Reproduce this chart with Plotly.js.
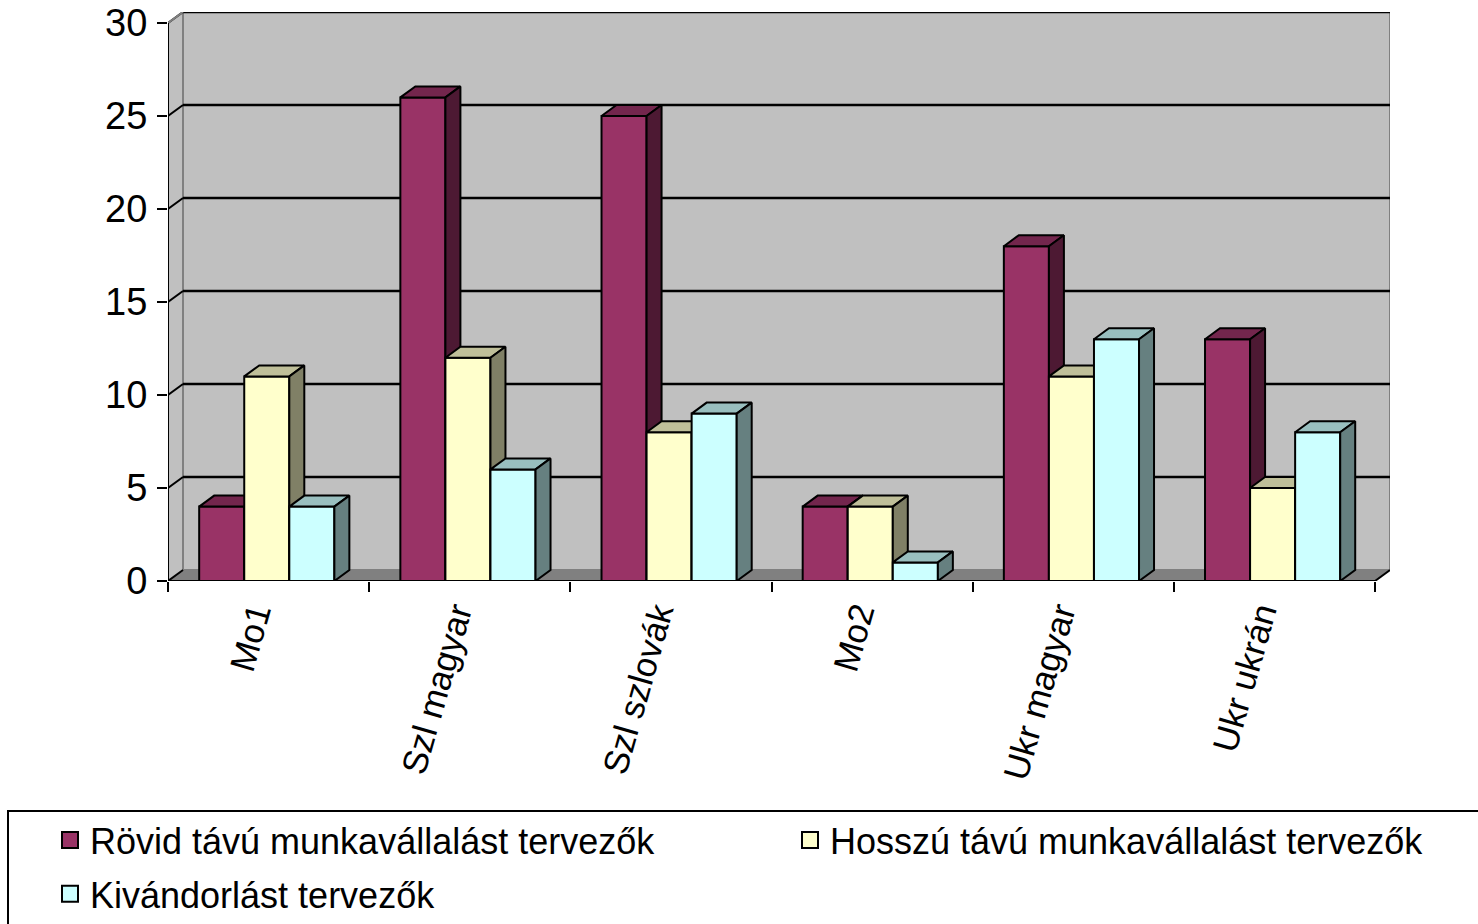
<!DOCTYPE html>
<html>
<head>
<meta charset="utf-8">
<script src="https://cdn.plot.ly/plotly-3.0.1.min.js"></script>
<style>html,body{margin:0;padding:0;background:#fff;}#chart{width:1478px;height:924px;}</style>
</head>
<body>
<div id="chart"></div>
<script>
// ---- data ----
const categories = ['Mo1', 'Szl magyar', 'Szl szlovák', 'Mo2', 'Ukr magyar', 'Ukr ukrán'];
const seriesNames = ['Rövid távú munkavállalást tervezők', 'Hosszú távú munkavállalást tervezők', 'Kivándorlást tervezők'];
const rovidTavu = [4, 26, 25, 4, 18, 13];
const hosszuTavu = [11, 12, 8, 4, 11, 5];
const kivandorlas = [4, 6, 9, 1, 13, 8];
const yTickVals = [0, 5, 10, 15, 20, 25, 30];

// ---- styles ----
const seriesValues = [rovidTavu, hosszuTavu, kivandorlas];
const frontColors = ['#993366', '#ffffcc', '#ccffff'];
const topColors = ['#73264d', '#bfbf99', '#99bfbf'];
const sideColors = ['#4d1933', '#808066', '#668080'];
const legendIds = ['legend', 'legend2', 'legend'];
const FONT = '"Liberation Sans", Arial, sans-serif';

// geometry (pixel layout mapped to axis units)
const W = 1478, H = 924;
const mL = 168, mR = 88, mT = 12, mB = 343;
const plotW = W - mL - mR, plotH = H - mT - mB;
const nCat = categories.length;
const PX_PER_CAT = 201.2;
const DX = 15 / PX_PER_CAT;   // depth offset in category units
const DY = 11 / 18.6;         // depth offset in value units
const yMax = 30;
const GROUP_OFF = 0.155, BAR_W = 0.224;
const LABEL_SHIFT = -14 / PX_PER_CAT;

const traces = [];
function poly(xs, ys, fill, group) {
  traces.push({
    type: 'scatter', mode: 'lines', x: xs.concat([xs[0]]), y: ys.concat([ys[0]]),
    fill: 'toself', fillcolor: fill, line: {color: '#000', width: 2},
    hoverinfo: 'skip', showlegend: false, legendgroup: group
  });
}
for (let c = 0; c < nCat; c++) {
  for (let s = 0; s < seriesValues.length; s++) {
    const v = seriesValues[s][c];
    const x0 = c + GROUP_OFF + s * BAR_W, x1 = x0 + BAR_W;
    poly([x0, x1, x1, x0], [0, 0, v, v], frontColors[s], 's' + s);                       // front
    poly([x0, x1, x1 + DX, x0 + DX], [v, v, v + DY, v + DY], topColors[s], 's' + s);     // top
    poly([x1, x1 + DX, x1 + DX, x1], [0, DY, v + DY, v], sideColors[s], 's' + s);        // side
  }
}
// legend entries
for (let s = 0; s < seriesNames.length; s++) {
  traces.push({
    type: 'scatter', mode: 'markers', x: [null], y: [null], name: seriesNames[s],
    legendgroup: 's' + s, showlegend: true, legend: legendIds[s],
    marker: {symbol: 'square', size: 18, color: frontColors[s], line: {color: '#000', width: 2}}
  });
}

const shapes = [];
shapes.push({type: 'path', layer: 'below', xref: 'x', yref: 'y',
  path: `M0,0 L${DX},${DY} L${DX},${yMax + DY} L0,${yMax} Z`,
  fillcolor: '#c0c0c0', line: {width: 0}});
shapes.push({type: 'rect', layer: 'below', xref: 'x', yref: 'y',
  x0: DX, x1: nCat + DX, y0: DY, y1: yMax + DY,
  fillcolor: '#c0c0c0', line: {color: '#808080', width: 2}});
shapes.push({type: 'path', layer: 'below', xref: 'x', yref: 'y',
  path: `M0,0 L${nCat},0 L${nCat + DX},${DY} L${DX},${DY} Z`,
  fillcolor: '#808080', line: {width: 0}});
yTickVals.forEach(v => {
  if (v > 0) {
    shapes.push({type: 'line', layer: 'below', xref: 'x', yref: 'y',
      x0: DX, x1: nCat + DX, y0: v + DY, y1: v + DY, line: {color: '#000', width: 2.5}});
  }
  shapes.push({type: 'line', layer: 'below', xref: 'x', yref: 'y',
    x0: 0, x1: DX, y0: v, y1: v + DY, line: {color: '#000', width: 2}});
});
shapes.push({type: 'line', layer: 'below', xref: 'x', yref: 'y',
  x0: 0, x1: DX, y0: yMax, y1: yMax + DY, line: {color: '#808080', width: 2}});
shapes.push({type: 'line', layer: 'above', xref: 'x', yref: 'y',
  x0: 0, x1: 0, y0: 0, y1: yMax, line: {color: '#000', width: 2}});
shapes.push({type: 'line', layer: 'above', xref: 'x', yref: 'y',
  x0: 0, x1: nCat, y0: 0, y1: 0, line: {color: '#000', width: 2}});
shapes.push({type: 'line', layer: 'above', xref: 'x', yref: 'y',
  x0: nCat, x1: nCat + DX, y0: 0, y1: DY, line: {color: '#000', width: 2}});
const px2xp = px => (px - mL) / plotW;
const py2yp = py => (H - mB - py) / plotH;
shapes.push({type: 'rect', xref: 'paper', yref: 'paper',
  x0: px2xp(8), x1: px2xp(1495), y0: py2yp(811), y1: py2yp(945),
  fillcolor: 'rgba(0,0,0,0)', line: {color: '#000', width: 2}});

const labelPos = categories.map((_, i) => i + 0.5 + LABEL_SHIFT);
const boundaries = categories.map((_, i) => i).concat([nCat]);

const legendBase = {
  orientation: 'v', xanchor: 'left', yanchor: 'top',
  bgcolor: 'rgba(0,0,0,0)', borderwidth: 0, tracegroupgap: 4,
  font: {family: FONT, size: 36, color: '#000'}, itemsizing: 'trace'
};

const layout = {
  width: W, height: H,
  margin: {l: mL, r: mR, t: mT, b: mB, pad: 0, autoexpand: false},
  paper_bgcolor: '#fff', plot_bgcolor: 'rgba(0,0,0,0)',
  font: {family: FONT, color: '#000'},
  showlegend: true,
  xaxis: {
    range: [0, nCat + DX], fixedrange: true, automargin: false,
    showgrid: false, zeroline: false, showline: false,
    tickmode: 'array', tickvals: labelPos, ticktext: categories, ticks: '',
    tickangle: -74, tickfont: {family: FONT, size: 35, color: '#000'},
    ticklabelstandoff: 4,
    minor: {tickmode: 'array', tickvals: boundaries, ticks: 'outside', ticklen: 10, tickwidth: 2, tickcolor: '#000', showgrid: false}
  },
  yaxis: {
    range: [0, yMax + DY], fixedrange: true, automargin: false,
    showgrid: false, zeroline: false, showline: false,
    tickmode: 'array', tickvals: yTickVals, ticks: 'outside', ticklen: 10, tickwidth: 2, tickcolor: '#000',
    tickfont: {family: FONT, size: 38, color: '#000'}, ticklabelstandoff: 2
  },
  legend: Object.assign({}, legendBase, {x: px2xp(50), y: py2yp(810)}),
  legend2: Object.assign({}, legendBase, {x: px2xp(790), y: py2yp(810)}),
  shapes: shapes
};

Plotly.newPlot('chart', traces, layout, {staticPlot: true, displayModeBar: false});
</script>
</body>
</html>
